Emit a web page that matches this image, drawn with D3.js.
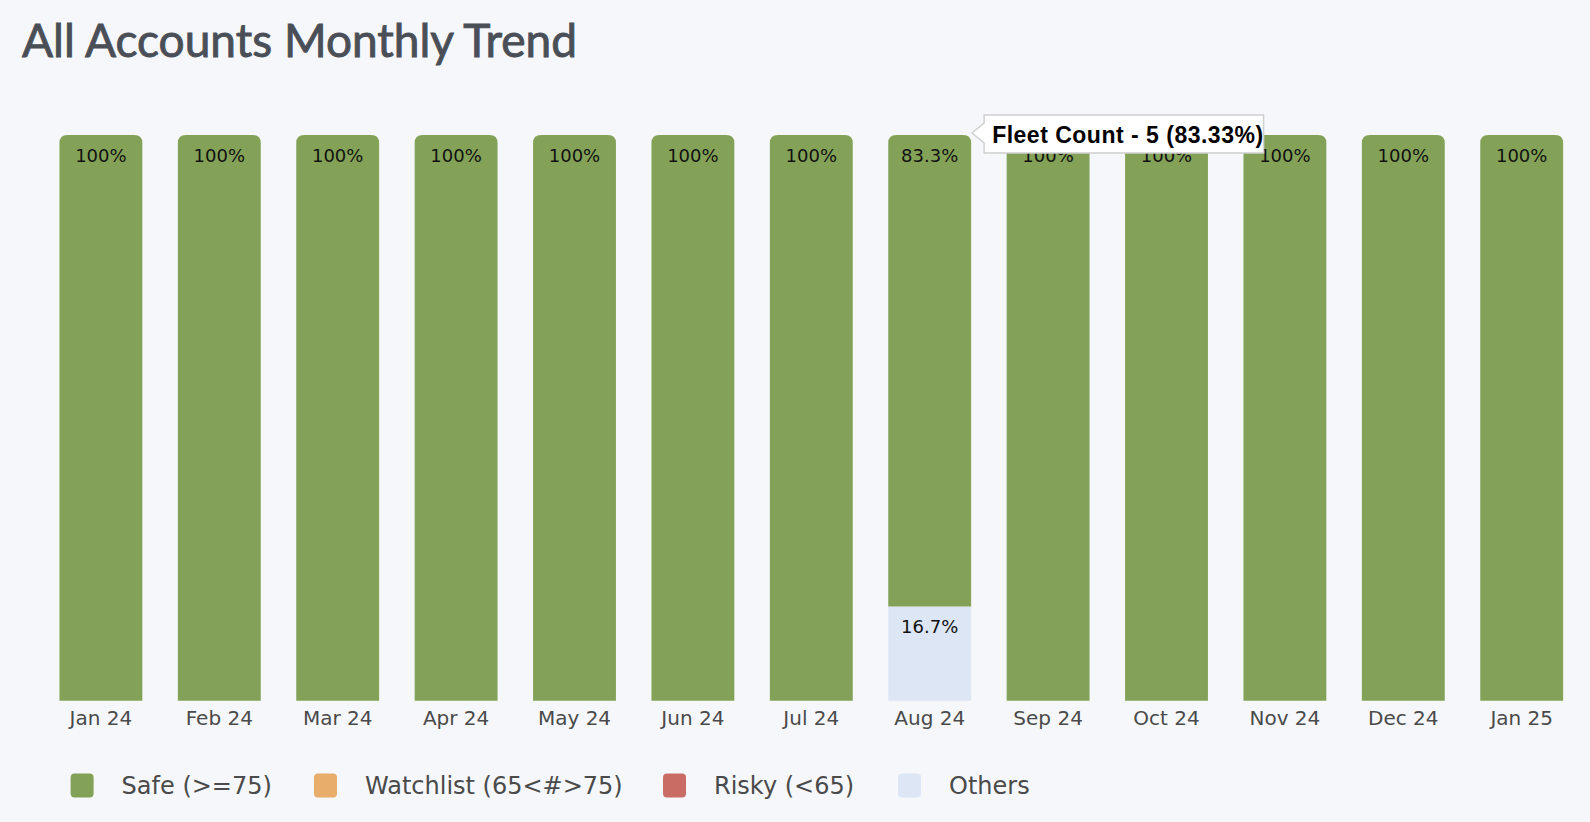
<!DOCTYPE html>
<html>
<head>
<meta charset="utf-8">
<script src="https://cdn.jsdelivr.net/npm/d3@7"></script>
<style>
  html, body { margin: 0; padding: 0; background: #f5f7fb; }
  svg { display: block; }
</style>
</head>
<body>
<svg id="chart" width="1590" height="822"></svg>
<script>
// ---- data ----
const months = ["Jan 24","Feb 24","Mar 24","Apr 24","May 24","Jun 24","Jul 24","Aug 24","Sep 24","Oct 24","Nov 24","Dec 24","Jan 25"];
const seriesNames = ["Safe (>=75)","Watchlist (65<#>75)","Risky (<65)","Others"];
const safeValues      = [100,100,100,100,100,100,100,83.33,100,100,100,100,100];
const watchlistValues = [0,0,0,0,0,0,0,0,0,0,0,0,0];
const riskyValues     = [0,0,0,0,0,0,0,0,0,0,0,0,0];
const othersValues    = [0,0,0,0,0,0,0,16.67,0,0,0,0,0];
const seriesColors = ["#83a257","#e8ac6b","#c96c64","#dce6f4"];
const titleText = "All Accounts Monthly Trend";
const tooltipText = "Fleet Count - 5 (83.33%)";
const tooltipMonth = "Aug 24";

const svg = d3.select("#chart");
const W = 1590, H = 822;
svg.append("rect").attr("width", W).attr("height", H).attr("fill", "#f5f7fb");

svg.append("text")
  .attr("x", 22).attr("y", 57)
  .attr("font-family", "'Source Sans Pro', Lato, 'Open Sans', sans-serif")
  .attr("font-weight", 400)
  .attr("font-size", 46)
  .attr("fill", "#4a4f57")
  .attr("stroke", "#4a4f57")
  .attr("stroke-width", 0.9)
  .text(titleText);

const table = months.map((m, i) => ({
  month: m,
  s0: safeValues[i], s1: watchlistValues[i], s2: riskyValues[i], s3: othersValues[i]
}));
// stack order: Others at bottom, then Risky, Watchlist, Safe on top
const keys = ["s3","s2","s1","s0"];
const stack = d3.stack().keys(keys)(table);

const x = d3.scaleBand().domain(months).range([41.7, 1580.9]).paddingInner(0.3).paddingOuter(0.15);
const y = d3.scaleLinear().domain([0, 100]).range([700.7, 135]);

const colorOf = k => seriesColors[+k.slice(1)];

// topmost non-zero segment per month gets rounded top corners
const topKey = {};
table.forEach(d => {
  for (let j = keys.length - 1; j >= 0; j--) {
    if (d[keys[j]] > 0) { topKey[d.month] = keys[j]; break; }
  }
});

const r = 8;
function segPath(x0, w, yTop, yBot, round) {
  if (!round) return `M${x0},${yBot}V${yTop}H${x0 + w}V${yBot}Z`;
  return `M${x0},${yBot}V${yTop + r}Q${x0},${yTop} ${x0 + r},${yTop}H${x0 + w - r}Q${x0 + w},${yTop} ${x0 + w},${yTop + r}V${yBot}Z`;
}

const g = svg.append("g");
stack.forEach(layer => {
  layer.forEach(seg => {
    const d = seg.data;
    const v = seg[1] - seg[0];
    if (v <= 0) return;
    const x0 = x(d.month), w = x.bandwidth();
    const y0 = y(seg[1]), y1 = y(seg[0]);
    g.append("path")
      .attr("d", segPath(x0, w, y0, y1, topKey[d.month] === layer.key))
      .attr("fill", colorOf(layer.key));
    const lbl = (v === 100 ? "100" : d3.format(".1f")(v)) + "%";
    g.append("text")
      .attr("x", x0 + w / 2).attr("y", y0 + 27)
      .attr("text-anchor", "middle")
      .attr("font-family", "'DejaVu Sans', Verdana, sans-serif")
      .attr("font-size", 18)
      .attr("fill", "#111")
      .text(lbl);
  });
});

// x axis
const xAxis = svg.append("g")
  .attr("transform", `translate(0,${y(0)})`)
  .call(d3.axisBottom(x).tickSize(0).tickPadding(10));
xAxis.select(".domain").remove();
xAxis.selectAll("text")
  .attr("font-family", "'DejaVu Sans', Verdana, sans-serif")
  .attr("font-size", 20)
  .attr("fill", "#4a4a4a")
  .attr("dy", "0.71em");

// legend
const legendX = [70.6, 314, 663, 898];
const legend = svg.append("g");
seriesNames.forEach((name, i) => {
  const lg = legend.append("g").attr("transform", `translate(${legendX[i]},773.5)`);
  lg.append("rect").attr("width", 23).attr("height", 24).attr("rx", 4)
    .attr("fill", seriesColors[i]);
  lg.append("text").attr("x", 51).attr("y", 20.5)
    .attr("font-family", "'DejaVu Sans', Verdana, sans-serif")
    .attr("font-size", 24)
    .attr("fill", "#4a4a4a")
    .text(name);
});

// tooltip
const tx = x(tooltipMonth) + x.bandwidth() + 1; // arrow tip
const ty = 133;
const boxL = tx + 12, boxT = 115, boxB = 153;
const tip = svg.append("g");
const tipText = tip.append("text")
  .attr("x", boxL + 8).attr("y", 142.5)
  .attr("font-family", "'Liberation Sans', Arial, Helvetica, sans-serif")
  .attr("font-weight", 700)
  .attr("font-size", 23)
  .attr("letter-spacing", 0.5)
  .attr("fill", "#000")
  .text(tooltipText);
const tw = tipText.node().getComputedTextLength();
const boxR = boxL + tw + 8;
tip.insert("path", "text")
  .attr("d", `M${boxL},${boxT}H${boxR}V${boxB}H${boxL}V${ty + 10}L${tx},${ty}L${boxL},${ty - 10}Z`)
  .attr("fill", "#fff")
  .attr("stroke", "#d0d0d0")
  .attr("stroke-width", 1.5);
</script>
</body>
</html>
